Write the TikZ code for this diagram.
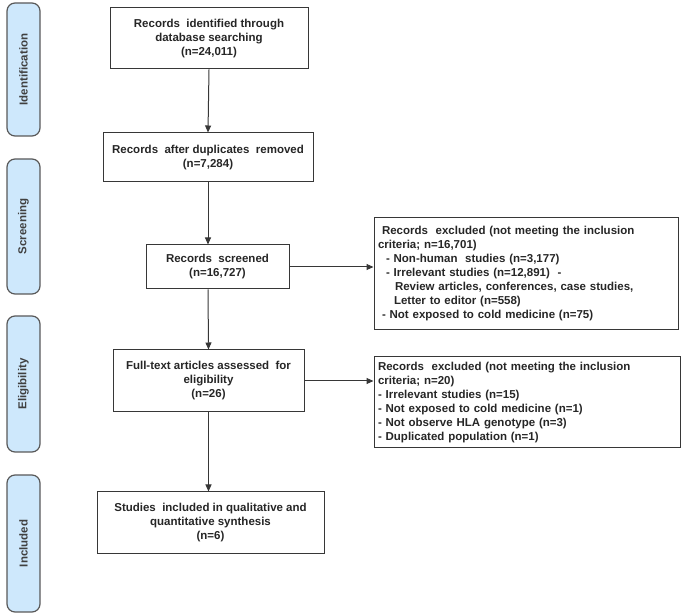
\documentclass[tikz,border=0pt]{standalone}
\usepackage{fontspec}
\setmainfont{Liberation Sans}
\usetikzlibrary{arrows.meta,positioning,calc}

\definecolor{phaseblue}{RGB}{206,232,252}
\definecolor{lineg}{RGB}{55,55,55}

\begin{document}
\begin{tikzpicture}[x=1pt,y=1pt,
    box/.style={draw=lineg, line width=1pt, align=center, inner sep=2pt,
        font=\bfseries\fontsize{11.5}{14}\selectfont, text=black!85},
    exbox/.style={box, align=left},
    phase/.style={draw=black!65, line width=1.2pt, fill=phaseblue, rounded corners=8pt,
        rotate=90, minimum height=33pt, font=\bfseries\fontsize{11.5}{13}\selectfont, text=black!75},
    arr/.style={-{Triangle[length=7pt,width=6pt]}, line width=1pt, draw=lineg}]

    \useasboundingbox (0,0) rectangle (685,615);

    % Phases
    \node[phase, minimum width=133pt] (identification) at (23.5,545.5) {Identification};
    \node[phase, minimum width=135pt] (screening) at (23.5,388.5) {Screening};
    \node[phase, minimum width=136pt] (eligibility) at (23.5,231) {Eligibility};
    \node[phase, minimum width=137pt] (included) at (23.5,71.5) {Included};

    % Main flow
    \node[box, minimum width=198pt, minimum height=61pt] (identified) at (209,576.5)
        {Records\ \ identified through\\database searching\\(n=24,011)};
    \node[box, minimum width=210pt, minimum height=49pt] (duplicates) at (208,457.5)
        {Records\ \ after duplicates\ \ removed\\(n=7,284)};
    \node[box, minimum width=143pt, minimum height=44pt] (screened) at (217.5,348)
        {Records\ \ screened\\(n=16,727)};
    \node[box, minimum width=191pt, minimum height=62pt] (fulltext) at (208.5,234)
        {Full-text articles assessed\ \ for\\eligibility\\(n=26)};
    \node[box, minimum width=227pt, minimum height=62pt] (synthesis) at (210.5,92)
        {Studies\ \ included in qualitative and\\quantitative synthesis\\(n=6)};

    % Exclusions
    \node[exbox, minimum width=304pt, minimum height=112pt, text width=296pt] (excluded1) at (526,341)
        {\hspace*{4pt}Records\ \ excluded (not meeting the inclusion\\
         criteria; n=16,701)\\
         \hspace*{8pt}- Non-human\ \ studies (n=3,177)\\
         \hspace*{8pt}- Irrelevant studies (n=12,891)\ \ -\\
         \hspace*{17pt}Review articles, conferences, case studies,\\
         \hspace*{16pt}Letter to editor (n=558)\\
         \hspace*{4pt}- Not exposed to cold medicine (n=75)};
    \node[exbox, minimum width=306pt, minimum height=91pt, text width=298pt] (excluded2) at (527,212.5)
        {Records\ \ excluded (not meeting the inclusion\\
         criteria; n=20)\\
         - Irrelevant studies (n=15)\\
         - Not exposed to cold medicine (n=1)\\
         - Not observe HLA genotype (n=3)\\
         - Duplicated population (n=1)};

    % Arrows
    \draw[arr] (identified.south) -- (duplicates.north);
    \draw[arr] (duplicates.south) -- (duplicates.south |- screened.north);
    \draw[arr] (screened.south -| duplicates.south) -- (fulltext.north);
    \draw[arr] (fulltext.south) -- (synthesis.north -| fulltext.south);
    \draw[arr] (screened.east) -- (screened.east -| excluded1.west);
    \draw[arr] (fulltext.east) -- (fulltext.east -| excluded2.west);
\end{tikzpicture}
\end{document}
